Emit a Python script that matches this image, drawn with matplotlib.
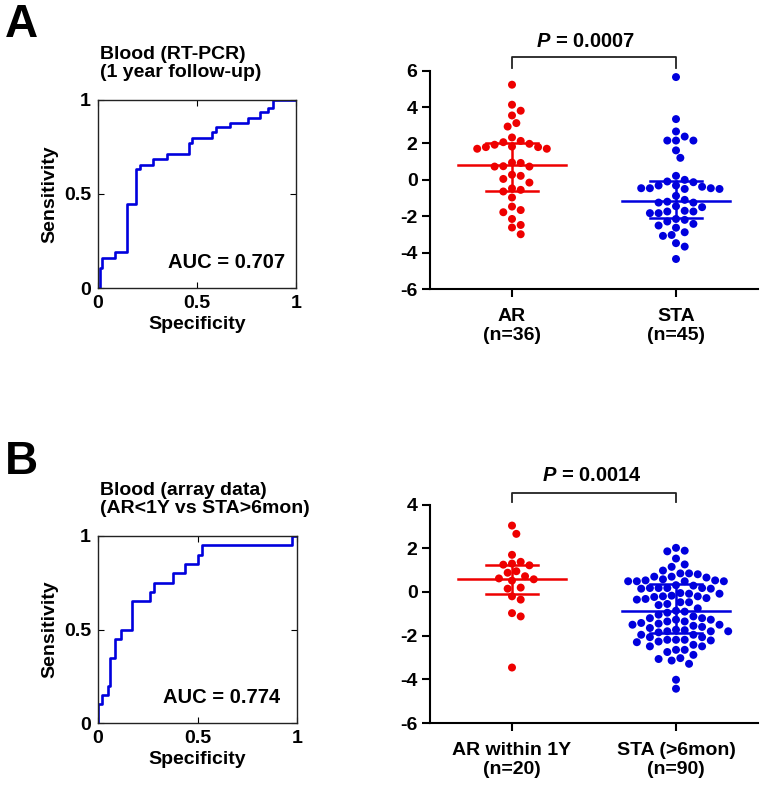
import numpy as np
import matplotlib
matplotlib.use('Agg')
import matplotlib.pyplot as plt

plt.rcParams['font.family'] = ['Liberation Sans', 'DejaVu Sans']
plt.rcParams['font.weight'] = 'bold'
plt.rcParams['axes.unicode_minus'] = False
plt.rcParams['mathtext.fontset'] = 'custom'
plt.rcParams['mathtext.it'] = 'Liberation Sans:italic:bold'

# ROC curves, corner points (1-spec, sens)
rocA_x = [0, 0.010, 0.022, 0.086, 0.145, 0.192, 0.212, 0.279, 0.347, 0.461, 0.473,
          0.574, 0.594, 0.667, 0.756, 0.818, 0.860, 0.882, 1.0]
rocA_y = [0, 0.108, 0.158, 0.193, 0.445, 0.633, 0.654, 0.684, 0.711, 0.770, 0.800,
          0.828, 0.855, 0.879, 0.906, 0.934, 0.959, 1.0, 1.0]
rocB_x = [0, 0, 0.022, 0.049, 0.059, 0.085, 0.114, 0.173, 0.261, 0.281, 0.375,
          0.437, 0.504, 0.524, 0.973, 1.0]
rocB_y = [0, 0.10, 0.15, 0.20, 0.35, 0.45, 0.50, 0.65, 0.70, 0.75, 0.80,
          0.85, 0.90, 0.95, 1.0, 1.0]
aucA = '0.707'
aucB = '0.774'
titleA = 'Blood (RT-PCR)\n(1 year follow-up)'
titleB = 'Blood (array data)\n(AR<1Y vs STA>6mon)'

# dot plot values
A_AR = [5.23, 4.13, 3.80, 3.54, 3.12, 2.93, 2.33, 2.14, 2.07, 1.98, 1.93, 1.80,
        1.71, 1.71, 1.80, 1.83, 0.95, 0.75, 0.73, 0.73, 0.93, 0.28, 0.22, 0.05,
        -0.15, -0.64, -0.55, -0.47, -0.97, -1.47, -1.78, -1.66, -2.15, -2.48,
        -2.62, -2.99]
A_STA = [5.65, 3.34, 2.66, 2.38, 2.16, 2.16, 2.16, 1.62, 1.21, 0.22,
         -0.13, -0.31, -0.46, -0.50, -0.50, -0.46, -0.46, -0.38, -0.31, -0.09, 0.0,
         -1.10, -1.25, -1.20, -1.25, -0.88, -1.50, -1.74, -1.83, -1.83, -1.74,
         -1.70, -2.20, -2.42, -2.51, -2.29, -2.63, -2.15, -2.88, -3.08, -3.03,
         -3.48, -3.67, -4.35, -1.45]
B_AR = [3.04, 2.66, 1.70, 1.38, 1.30, 1.25, 1.22, 0.95, 0.88, 0.72, 0.62, 0.58,
        0.52, 0.20, 0.15, -0.20, -0.35, -0.97, -1.12, -3.46]
B_STA = [2.02, 1.89, 1.86, 1.53, 1.26, 1.15, 0.98, 0.85, 0.85,
         0.70, 0.66, 0.53, 0.49, 0.49, 0.49, 0.49, 0.53, 0.58, 0.70, 0.81,
         0.29, 0.18, 0.15, 0.18, 0.18, 0.15, 0.18, 0.31,
         -0.05, -0.08, -0.2, -0.23, -0.32, -0.47, -0.47, -0.35, -0.28, -0.2,
         -0.17, -0.08, -0.6, -0.55,
         -0.75, -0.86, -0.9, -0.95,
         -1.04, -1.20, -1.27, -1.35, -1.42, -1.50, -1.45, -1.35, -1.27, -1.20, -1.12,
         -1.60, -1.73, -1.80, -1.85, -1.80, -1.75, -1.80, -1.65, -1.55, -1.50,
         -1.96, -2.07, -2.19, -2.19, -2.22, -2.27, -2.30, -2.19, -2.07, -1.96,
         -2.49, -2.65, -2.88, -2.75, -2.65, -2.49, -2.42,
         -3.03, -3.14, -3.29, -3.07, -4.02, -4.43]
# (q1, median, q3) as drawn
A_AR_st = [-0.62, 0.84, 2.02]
A_STA_st = [-2.10, -1.14, -0.05]
B_AR_st = [-0.08, 0.61, 1.22]
B_STA_st = [-1.88, -0.86, 0.38]
labelsA = ['AR\n(n=36)', 'STA\n(n=45)']
labelsB = ['AR within 1Y\n(n=20)', 'STA (>6mon)\n(n=90)']
pA = '0.0007'
pB = '0.0014'

RED = '#ee0000'
BLUE = '#0000dd'
W, H = 763, 791

fig = plt.figure(figsize=(W/100, H/100), dpi=100)


def box(l, t, r, b):
    return [l/W, 1-b/H, (r-l)/W, (b-t)/H]


def roc(rect, xs, ys, auc, aucx, title, ty):
    ax = fig.add_axes(rect)
    ax.plot(xs, ys, drawstyle='steps-post', color=BLUE, lw=1.9)
    ax.set_xlim(0, 1)
    ax.set_ylim(0, 1)
    ax.set_xticks([0, 0.5, 1])
    ax.set_yticks([0, 0.5, 1])
    ax.set_xticklabels(['0', '0.5', '1'])
    ax.set_yticklabels(['0', '0.5', '1'])
    ax.tick_params(direction='in', top=True, right=True, length=4, width=0.8,
                   labelsize=14, pad=5)
    for s in ax.spines.values():
        s.set_linewidth(1.0)
        s.set_color('#222222')
    ax.set_xlabel('Specificity', fontsize=14, fontweight='bold', labelpad=3)
    ax.set_ylabel('Sensitivity', fontsize=14, fontweight='bold', labelpad=4)
    ax.text(aucx, 0.135, 'AUC = ' + auc, transform=ax.transAxes, ha='right',
            va='center', fontsize=14.5)
    fig.text(100/W, 1-ty/H, title, fontsize=14, ha='left', va='top', linespacing=1.05)
    return ax


def swarm(ax, vals, center, d):
    vals = np.asarray(vals, float)
    pix = ax.transData.transform(np.column_stack([np.full(len(vals), center), vals]))
    cx = pix[0, 0]
    ys = pix[:, 1]
    xs = np.full(len(vals), cx)
    done = []
    steps = [0] + [s*k for k in range(1, 60) for s in (1, -1)]
    for i in np.argsort(-vals):
        for k in steps:
            x = cx + k*d/2
            if all((x-px)**2 + (ys[i]-py)**2 >= (0.97*d)**2 for px, py in done):
                break
        xs[i] = x
        done.append((x, ys[i]))
    back = ax.transData.inverted().transform(np.column_stack([xs, ys]))
    return back[:, 0]


def dots(rect, groups, stats, labels, ylim, p, py, bar_top, bar_leg, px):
    ax = fig.add_axes(rect)
    ax.set_xlim(-0.5, 1.5)
    ax.set_ylim(*ylim)
    ax.set_yticks(np.arange(ylim[0], ylim[1]+1, 2))
    ax.set_xticks([0, 1])
    ax.set_xticklabels(labels, linespacing=1.15)
    ax.spines['top'].set_visible(False)
    ax.spines['right'].set_visible(False)
    for s in ('left', 'bottom'):
        ax.spines[s].set_linewidth(1.5)
    ax.tick_params(direction='out', length=6, width=1.5, labelsize=14)
    ax.tick_params(axis='y', pad=3)
    ax.tick_params(axis='x', pad=8)
    for i, (vals, st, c) in enumerate(zip(groups, stats, [RED, BLUE])):
        xs = swarm(ax, vals, i, 8.7)
        ax.scatter(xs, vals, s=33, color=c, edgecolors='none', zorder=3, clip_on=False)
        q1, med, q3 = st
        ax.plot([i-0.33, i+0.33], [med, med], color=c, lw=1.8, zorder=4)
        ax.plot([i-0.16, i+0.16], [q1, q1], color=c, lw=1.8, zorder=4)
        ax.plot([i-0.16, i+0.16], [q3, q3], color=c, lw=1.8, zorder=4)
        ax.plot([i, i], [q1, q3], color=c, lw=1.8, zorder=4)
    ax.plot([0, 0, 1, 1], [bar_leg, bar_top, bar_top, bar_leg], color='#222222',
            lw=1.3, clip_on=False)
    ax.text(px, py, '$P$ = ' + p, ha='center', va='center', fontsize=14.5)
    return ax


roc(box(98, 100, 296, 288), rocA_x, rocA_y, aucA, 0.944, titleA, 46)
roc(box(98, 536, 297, 723), rocB_x, rocB_y, aucB, 0.915, titleB, 482)
dots(box(430, 70.7, 758, 289), [A_AR, A_STA], [A_AR_st, A_STA_st], labelsA,
     (-6, 6), pA, 7.6, 6.77, 6.16, 0.45)
dots(box(430, 504.6, 758, 723), [B_AR, B_STA], [B_AR_st, B_STA_st], labelsB,
     (-6, 4), pB, 5.33, 4.55, 4.1, 0.485)

fig.text(5/W, 1-3/H, 'A', fontsize=33, ha='left', va='top')
fig.text(5/W, 1-440/H, 'B', fontsize=33, ha='left', va='top')

fig.savefig('out.png', dpi=100)
